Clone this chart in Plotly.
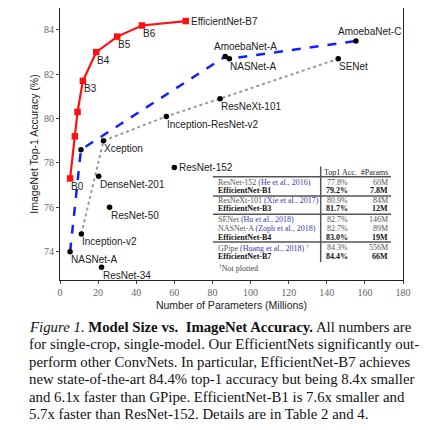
import plotly.graph_objects as go

# EfficientNet family (red)
eff_params = [5.3, 7.8, 9.2, 12, 19, 30, 43, 66]
eff_acc = [77.3, 79.2, 80.3, 81.7, 83.0, 83.7, 84.2, 84.4]
eff_labels = ["B0", "", "", "B3", "B4", "B5", "B6", "EfficientNet-B7"]

# NAS family (blue dashed)
nas_params = [5.3, 11, 86.7, 88.9, 155.3]
nas_acc = [74.0, 78.6, 82.8, 82.7, 83.5]
nas_labels = ["NASNet-A", "", "AmoebaNet-A", "NASNet-A", "AmoebaNet-C"]

# hand-designed family (gray dotted)
hand_params = [11.2, 22.8, 55.8, 84, 146]
hand_acc = [74.8, 79.0, 80.1, 80.9, 82.7]
hand_labels = ["Inception-v2", "Xception", "Inception-ResNet-v2", "ResNeXt-101", "SENet"]

# standalone points
other_params = [60, 26, 21.8, 20.3]
other_acc = [77.8, 76.0, 73.3, 77.4]
other_labels = ["ResNet-152", "ResNet-50", "ResNet-34", "DenseNet-201"]

# inset table
tbl_models = ["ResNet-152", "EfficientNet-B1", "ResNeXt-101", "EfficientNet-B3", "SENet",
              "NASNet-A", "EfficientNet-B4", "GPipe", "EfficientNet-B7"]
tbl_cites = ["(He et al., 2016)", "", "(Xie et al., 2017)", "", "(Hu et al., 2018)",
             "(Zoph et al., 2018)", "", "(Huang et al., 2018)", ""]
tbl_acc = ["77.8%", "79.2%", "80.9%", "81.7%", "82.7%", "82.7%", "83.0%", "84.3%", "84.4%"]
tbl_params = ["60M", "7.8M", "84M", "12M", "146M", "89M", "19M", "556M", "66M"]

caption = [
    "<i>Figure 1</i>. <b>Model Size vs.  ImageNet Accuracy.</b> All numbers are",
    "for single-crop, single-model. Our EfficientNets significantly out-",
    "perform other ConvNets. In particular, EfficientNet-B7 achieves",
    "new state-of-the-art 84.4% top-1 accuracy but being 8.4x smaller",
    "and 6.1x faster than GPipe. EfficientNet-B1 is 7.6x smaller and",
    "5.7x faster than ResNet-152. Details are in Table 2 and 4.",
]

# page body adds 8px; positions below are measured in window pixels
OFF = 8
L, R, T, B = 52, 35, 0, 158
W = H = 430
PW, PH = W - L - R, H - T - B


def px(x):
    return (x - OFF - L) / PW


def py(y):
    return (H - B - (y - OFF)) / PH


SANS = "Liberation Sans, Arial, sans-serif"
SERIF = "Liberation Serif, Times New Roman, serif"

fig = go.Figure()
fig.add_trace(go.Scatter(
    x=hand_params, y=hand_acc, mode="lines+markers",
    line=dict(color="#9a9a9a", width=2, dash="dot"),
    marker=dict(color="black", size=5.5), showlegend=False,
))
fig.add_trace(go.Scatter(
    x=nas_params, y=nas_acc, mode="lines+markers",
    line=dict(color="#1020ff", width=2.5, dash="dash"),
    marker=dict(color="black", size=5.5), showlegend=False,
))
fig.add_trace(go.Scatter(
    x=other_params, y=other_acc, mode="markers",
    marker=dict(color="black", size=5.5), showlegend=False,
))
fig.add_trace(go.Scatter(
    x=eff_params, y=eff_acc, mode="lines+markers",
    line=dict(color="#ff1010", width=2.2),
    marker=dict(color="#ff1010", size=6.5, symbol="square"), showlegend=False,
))

annotations = []


def label(x, y, text, where="below", dx=0):
    if not text:
        return
    a = dict(x=x, y=y, xref="x", yref="y", text=text, showarrow=False,
             font=dict(family=SANS, size=10, color="#222"), yanchor="middle")
    if where == "below":
        a.update(xanchor="left", xshift=-1, yshift=-8)
    elif where == "right":
        a.update(xanchor="left", xshift=3)
    elif where == "above":
        a.update(xanchor="center", xshift=dx, yshift=10)
    annotations.append(a)


for x, y, t in zip(eff_params, eff_acc, eff_labels):
    label(x, y, t, "right" if t.startswith("Eff") else "below")
for x, y, t in zip(nas_params, nas_acc, nas_labels):
    if t.startswith("Amoeba"):
        label(x, y, t, "above", 20 if t.endswith("A") else 14)
    else:
        label(x, y, t)
for x, y, t in zip(hand_params, hand_acc, hand_labels):
    label(x, y, t)
for x, y, t in zip(other_params, other_acc, other_labels):
    label(x, y, t, "right" if t == "ResNet-152" else "below")

# table
row_y = [182, 190, 200.7, 208.5, 219, 228.5, 237.3, 247.5, 256.5]
annotations.append(dict(x=px(322), y=py(172), xref="paper", yref="paper", xanchor="left",
                        yanchor="middle", showarrow=False, text="Top1 Acc.  #Params",
                        font=dict(family=SERIF, size=8, color="#222")))
for i, (m, c, a, p) in enumerate(zip(tbl_models, tbl_cites, tbl_acc, tbl_params)):
    bold = m.startswith("EfficientNet")
    col = "#111" if bold else "#555"
    name = f"<b>{m}</b>" if bold else m
    if c:
        name += f" <span style='color:#3a3ab0'>{c}</span>"
    if m == "GPipe":
        name += " <sup>†</sup>"
    for xx, t, anc in ((215.5, name, "left"),
                       (337, f"<b>{a}</b>" if bold else a, "center"),
                       (390, f"<b>{p}</b>" if bold else p, "right")):
        annotations.append(dict(x=px(xx), y=py(row_y[i]), xref="paper", yref="paper",
                                xanchor=anc, yanchor="middle", showarrow=False, text=t,
                                font=dict(family=SERIF, size=8, color=col)))
annotations.append(dict(x=px(217), y=py(267.5), xref="paper", yref="paper", xanchor="left",
                        yanchor="middle", showarrow=False, text="<sup>†</sup>Not plotted",
                        font=dict(family=SERIF, size=8, color="#444")))

shapes = []
for yy in (176.7, 196, 214.3, 242):
    shapes.append(dict(type="line", xref="paper", yref="paper", x0=px(213), x1=px(391),
                       y0=py(yy), y1=py(yy), line=dict(color="#555", width=1.5)))
shapes.append(dict(type="line", xref="paper", yref="paper", x0=px(320.7), x1=px(320.7),
                   y0=py(166.5), y1=py(262), line=dict(color="#555", width=1.5)))

# caption
for i, line in enumerate(caption):
    annotations.append(dict(x=px(27), y=py(327 + 17.4 * i), xref="paper", yref="paper",
                            xanchor="left", yanchor="middle", showarrow=False, text=line,
                            font=dict(family=SERIF, size=14.8, color="#111")))

fig.update_layout(
    width=W, height=H,
    margin=dict(l=L, r=R, t=T, b=B),
    paper_bgcolor="white", plot_bgcolor="white",
    annotations=annotations, shapes=shapes,
    xaxis=dict(range=[0, 180], dtick=20, showgrid=False, zeroline=False,
               showline=True, linecolor="#222", linewidth=1, mirror=True,
               ticks="outside", ticklen=3, tickcolor="#444",
               tickfont=dict(family=SERIF, size=10, color="#666"),
               title=dict(text="Number of Parameters (Millions)", standoff=4,
                          font=dict(family=SANS, size=10.5, color="#222"))),
    yaxis=dict(range=[72.72, 84.99], dtick=2, showgrid=False, zeroline=False,
               showline=True, linecolor="#222", linewidth=1, mirror=True,
               ticks="outside", ticklen=3, tickcolor="#444",
               tickfont=dict(family=SERIF, size=10, color="#666"),
               title=dict(text="ImageNet Top-1 Accuracy (%)", standoff=3,
                          font=dict(family=SANS, size=10.5, color="#222"))),
)

fig.write_html("out.html")
